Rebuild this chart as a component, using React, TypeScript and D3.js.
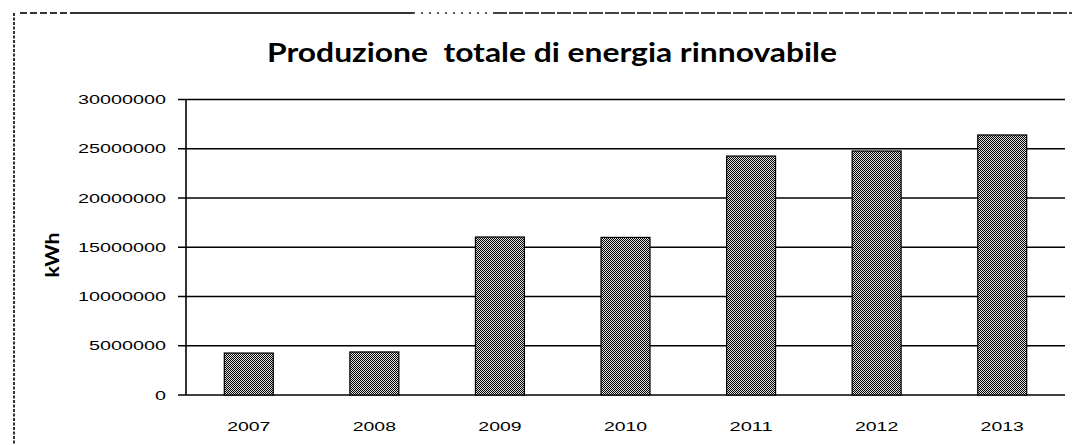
import React from "react";
import * as d3 from "d3";

const years = ["2007", "2008", "2009", "2010", "2011", "2012", "2013"];
const production = [4260000, 4370000, 16040000, 16000000, 24260000, 24770000, 26400000];
const yTicks = [0, 5000000, 10000000, 15000000, 20000000, 25000000, 30000000];
const title = "Produzione  totale di energia rinnovabile";
const yLabel = "kWh";

const W = 1072;
const H = 445;
const X0 = 186;
const X1 = 1065;
const Y0 = 395;
const Y1 = 99.5;

export default function App() {
  const x = d3.scaleBand<string>().domain(years).range([X0, X1]).paddingInner(0.61).paddingOuter(0.305);
  const y = d3.scaleLinear().domain([0, 30000000]).range([Y0, Y1]);
  const fmt = d3.format("d");
  const digitW = 11;
  return (
    <svg width={W} height={H} style={{ position: "absolute", left: 0, top: 0, background: "#fff" }}>
      <defs>
        <pattern id="dither" width="2" height="2" patternUnits="userSpaceOnUse">
          <rect width="2" height="2" fill="#e0e0e0" shapeRendering="crispEdges" />
          <rect width="1" height="1" fill="#000" shapeRendering="crispEdges" />
          <rect x="1" y="1" width="1" height="1" fill="#000" shapeRendering="crispEdges" />
        </pattern>
      </defs>
      {/* scan border */}
      <line x1={14} y1={13} x2={14} y2={H} stroke="#333" strokeWidth={2} strokeDasharray="3,1.5" />
      <line x1={20} y1={13} x2={70} y2={13} stroke="#333" strokeWidth={2} strokeDasharray="7,3" />
      <line x1={70} y1={13} x2={413} y2={13} stroke="#333" strokeWidth={2} />
      <line x1={413} y1={13} x2={493} y2={13} stroke="#555" strokeWidth={2} strokeDasharray="2,6" />
      <line x1={493} y1={13} x2={W} y2={13} stroke="#444" strokeWidth={2} strokeDasharray="14,2" />
      {/* title */}
      <text x={552} y={62} textAnchor="middle" fontFamily="Lato, 'Open Sans', sans-serif" fontWeight={700}
        fontSize={26} textLength={570} lengthAdjust="spacingAndGlyphs" fill="#000" style={{ whiteSpace: "pre" }}>
        {title}
      </text>
      {/* gridlines */}
      {yTicks.map((t) => (
        <g key={t}>
          <line x1={X0 - 8} x2={X1} y1={y(t)} y2={y(t)} stroke="#000" strokeWidth={1.6} />
          <text x={166} y={y(t) + 4.5} textAnchor="end" fontFamily="'Liberation Sans', sans-serif" fontSize={13}
            textLength={fmt(t).length * digitW} lengthAdjust="spacingAndGlyphs" fill="#000">
            {fmt(t)}
          </text>
        </g>
      ))}
      {/* y axis line */}
      <line x1={X0} x2={X0} y1={Y1} y2={Y0} stroke="#000" strokeWidth={1.6} />
      {/* bars */}
      {years.map((yr, i) => (
        <rect key={yr} x={x(yr)} y={y(production[i])} width={x.bandwidth()} height={Y0 - y(production[i])}
          fill="url(#dither)" stroke="#000" strokeWidth={1.2} />
      ))}
      {/* x labels */}
      {years.map((yr) => (
        <text key={yr} x={(x(yr) as number) + x.bandwidth() / 2} y={431} textAnchor="middle"
          fontFamily="'Liberation Sans', sans-serif" fontSize={13} textLength={yr.length * 10.8}
          lengthAdjust="spacingAndGlyphs" fill="#000">
          {yr}
        </text>
      ))}
      {/* y label */}
      <text transform={`translate(59,255) rotate(-90)`} textAnchor="middle" fontFamily="Lato, 'Open Sans', sans-serif"
        fontWeight={700} fontSize={18} textLength={45} lengthAdjust="spacingAndGlyphs" fill="#000">
        {yLabel}
      </text>
    </svg>
  );
}
